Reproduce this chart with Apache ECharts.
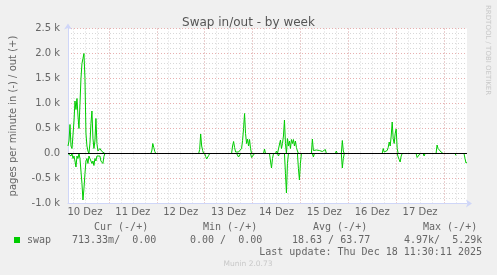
<!DOCTYPE html>
<html>
<head>
<meta charset="utf-8">
<script src="https://cdn.jsdelivr.net/npm/echarts@6/dist/echarts.min.js"></script>
<style>
html,body{margin:0;padding:0;background:#F0F0F0;}
#chart{width:497px;height:275px;}
</style>
</head>
<body>
<div id="chart"></div>
<script>
// ---- data (half-hour sample index since Wed 10 Dec 2025 03:30) ----
const startTime = Date.UTC(2025, 11, 10, 3, 30);
const endTime = Date.UTC(2025, 11, 18, 11, 30);
const sampleMs = 30 * 60 * 1000;

// swap out (+), pages per minute
const outSamples = [0,1,2,3,4,5,6,7,8,9,10,11,12,13,14,15,16,17,18,19,20,21,22,23,24,25,26,27,28,29,30,31,32,33,34,35,36,37,
  83,84,85,86,87,88,92,93,94,99,100,101,
  131,132,133,134,135,136,
  164,165,166,167,168,169,171,172,173,174,175,176,177,178,179,180,181,182,183,184,
  196,197,198,208,209,210,
  212,213,214,215,216,217,218,219,220,221,222,223,224,225,226,227,228,229,230,231,
  244,245,246,247,248,249,250,251,252,253,254,255,256,257,258,259,
  264,265,266,268,269,270,274,275,276,277,
  315,316,317,318,319,320,321,322,323,324,325,326,327,328,329,330,331,
  369,370,371,372,373,374,375,376,387,388,389,396,397,398,400];
const outValues = [150,250,580,150,100,120,650,1050,880,1100,750,500,1000,1500,1800,1900,2000,1500,400,150,50,0,200,600,850,300,100,250,700,200,50,80,100,60,40,80,30,0,
  0,50,200,120,40,0,0,20,0,0,20,0,
  0,80,390,150,60,0,
  0,150,240,120,30,0,30,20,0,100,260,500,800,400,200,290,150,280,100,0,
  0,90,0,0,50,0,
  0,270,100,200,350,670,200,0,300,150,250,100,280,200,280,150,250,120,50,0,
  0,290,60,80,60,70,50,80,60,90,60,40,70,60,80,0,
  0,40,0,0,50,0,0,260,50,0,
  0,100,30,60,40,60,120,230,150,350,630,300,200,400,490,100,0,
  0,170,100,60,80,30,40,0,0,30,0,0,20,0,0];

// swap in (-), pages per minute (drawn below zero)
const inSamples = [0,2,3,4,5,6,7,8,9,10,11,12,13,14,15,16,17,18,19,20,21,22,23,24,25,26,27,28,29,30,31,32,33,34,35,36,37,
  85,86,87,
  137,138,139,140,141,142,
  169,170,171,172,173,183,184,185,186,187,
  202,203,204,205,206,210,211,212,
  217,218,219,220,221,230,231,232,233,234,
  245,246,247,274,275,276,277,
  330,331,332,333,334,335,349,350,351,352,353,356,357,358,
  388,389,390,397,398,399,400];
const inValues = [0,0,50,0,100,50,150,270,50,100,0,100,350,600,930,700,400,150,100,200,50,100,150,200,150,240,100,150,50,30,60,50,150,150,200,60,0,
  0,30,0,
  0,60,110,100,40,0,
  0,20,70,30,0,0,80,60,80,0,
  0,150,290,100,0,0,50,0,
  0,400,790,200,0,0,300,530,200,0,
  0,70,0,0,290,100,0,
  0,70,120,170,50,0,0,80,120,90,0,0,50,0,
  0,40,0,0,100,190,180];

// axis ticks / labels
const yTickLabels = {'-1000':'-1.0 k','-500':'-0.5 k','0':'0.0','500':'0.5 k','1000':'1.0 k','1500':'1.5 k','2000':'2.0 k','2500':'2.5 k'};
const labelDays = [10,11,12,13,14,15,16,17];
const dayLabels = ['10 Dez','11 Dez','12 Dez','13 Dez','14 Dez','15 Dez','16 Dez','17 Dez'];
const midnightDays = [11,12,13,14,15,16,17,18];

// legend table
const statHeaders = ['Cur (-/+)','Min (-/+)','Avg (-/+)','Max (-/+)'];
const seriesName = 'swap';
const swapStats = ['713.33m/  0.00','0.00 /  0.00','18.63 / 63.77','4.97k/  5.29k'];
const lastUpdate = 'Last update: Thu Dec 18 11:30:11 2025';
const muninVersion = 'Munin 2.0.73';
const rrdCredit = 'RRDTOOL / TOBI OETIKER';
const chartTitle = 'Swap in/out - by week';
const yAxisTitle = 'pages per minute in (-) / out (+)';

// ---- build ----
const toTime = s => startTime + s * sampleMs;
// idle stretches (zero at both ends, several samples apart) are left undrawn; the black zero rule covers them
function buildLine(samples, values, sign) {
  const res = [];
  samples.forEach((s, i) => {
    if (i > 0 && s - samples[i - 1] > 3 && values[i] === 0 && values[i - 1] === 0) {
      res.push([toTime((s + samples[i - 1]) / 2), null]);
    }
    res.push([toTime(s), sign * values[i]]);
  });
  return res;
}
const outData = buildLine(outSamples, outValues, 1);
const inData = buildLine(inSamples, inValues, -1);
const midnights = midnightDays.map(d => Date.UTC(2025, 11, d));
const noons = labelDays.map(d => Date.UTC(2025, 11, d, 12));
const sixHours = [];
for (let t = Date.UTC(2025, 11, 10, 6); t <= endTime; t += 6 * 3600 * 1000) sixHours.push(t);

const FONT = 'DejaVu Sans';
const MONO = 'DejaVu Sans Mono';
const TXT = '#666666';
const AXIS = '#CFD6F8';
const GREEN = '#00CC00';

const chart = echarts.init(document.getElementById('chart'), null, {renderer: 'canvas'});
const statX = [94, 203, 313, 423];
const valX = [72, 190, 292, 404];
const graphics = [];
statHeaders.forEach((h, i) => graphics.push({type:'text', x: statX[i], y: 227, style:{text:h, font:'10px "' + MONO + '"', fill:TXT, textVerticalAlign:'middle'}}));
graphics.push({type:'rect', shape:{x:14, y:237, width:6, height:6}, style:{fill:GREEN}});
graphics.push({type:'text', x:27, y:240, style:{text:seriesName, font:'10px "' + MONO + '"', fill:TXT, textVerticalAlign:'middle'}});
swapStats.forEach((s, i) => graphics.push({type:'text', x: valX[i], y: 240, style:{text:s, font:'10px "' + MONO + '"', fill:TXT, textVerticalAlign:'middle'}}));
graphics.push({type:'text', x:482, y:252, style:{text:lastUpdate, font:'10px "' + MONO + '"', fill:TXT, textAlign:'right', textVerticalAlign:'middle'}});
graphics.push({type:'text', x:248, y:264, style:{text:muninVersion, font:'7.5px "' + FONT + '"', fill:'#C8C8C8', textAlign:'center', textVerticalAlign:'middle'}});
graphics.push({type:'text', x:488, y:5, rotation:-Math.PI/2, style:{text:rrdCredit, font:'7px "' + FONT + '"', fill:'#C8C8C8', textAlign:'left', textVerticalAlign:'middle'}});

chart.setOption({
  animation: false,
  backgroundColor: '#F0F0F0',
  title: {text: chartTitle, left: 'center', top: 12, textStyle: {fontFamily: FONT, fontSize: 12, fontWeight: 'normal', color: '#555555'}},
  grid: {left: 67, right: 30, top: 28.5, bottom: 71.5, show: true, backgroundColor: '#FFFFFF', borderWidth: 0},
  xAxis: [
    {type: 'value', min: startTime, max: endTime, position: 'bottom',
     axisLine: {show: false}, axisTick: {show: false, customValues: sixHours}, axisLabel: {show: false},
     splitLine: {show: true, lineStyle: {color: '#D8D8D8', type: [1, 2], width: 1}}},
    {type: 'value', min: startTime, max: endTime, position: 'bottom',
     axisLine: {show: true, onZero: false, lineStyle: {color: AXIS}, symbol: ['none', 'arrow'], symbolSize: [6, 6], symbolOffset: [0, 5]},
     axisTick: {show: false, customValues: midnights},
     axisLabel: {show: true, customValues: noons, margin: 4, fontFamily: FONT, fontSize: 10, color: TXT,
       formatter: v => dayLabels[labelDays.indexOf(new Date(v).getUTCDate())]},
     splitLine: {show: true, lineStyle: {color: '#E8B0B0', type: [1, 2], width: 1}}}
  ],
  yAxis: {type: 'value', min: -1000, max: 2500, interval: 500,
    name: yAxisTitle, nameLocation: 'middle', nameGap: 50,
    nameTextStyle: {fontFamily: FONT, fontSize: 10, color: TXT},
    axisLine: {show: true, lineStyle: {color: AXIS}, symbol: ['none', 'arrow'], symbolSize: [6, 6], symbolOffset: [0, 5]},
    axisTick: {show: false},
    axisLabel: {fontFamily: FONT, fontSize: 10, color: TXT, margin: 8, formatter: v => yTickLabels[String(v)]},
    splitLine: {show: true, lineStyle: {color: '#E8B0B0', type: [1, 2], width: 1}},
    minorTick: {show: false, splitNumber: 5},
    minorSplitLine: {show: true, lineStyle: {color: '#D8D8D8', type: [1, 2], width: 1}}
  },
  series: [
    {name: 'swap in', type: 'line', xAxisIndex: 1, data: inData, showSymbol: false, symbol: 'none', connectNulls: false,
     lineStyle: {color: GREEN, width: 1}, z: 3},
    {name: 'swap out', type: 'line', xAxisIndex: 1, data: outData, showSymbol: false, symbol: 'none', connectNulls: false,
     lineStyle: {color: GREEN, width: 1}, z: 3},
    {name: 'zero', type: 'line', xAxisIndex: 1, data: [[startTime, 0], [endTime, 0]], showSymbol: false, symbol: 'none',
     lineStyle: {color: '#000000', width: 1}, z: 5, silent: true}
  ],
  graphic: graphics
});
</script>
</body>
</html>
